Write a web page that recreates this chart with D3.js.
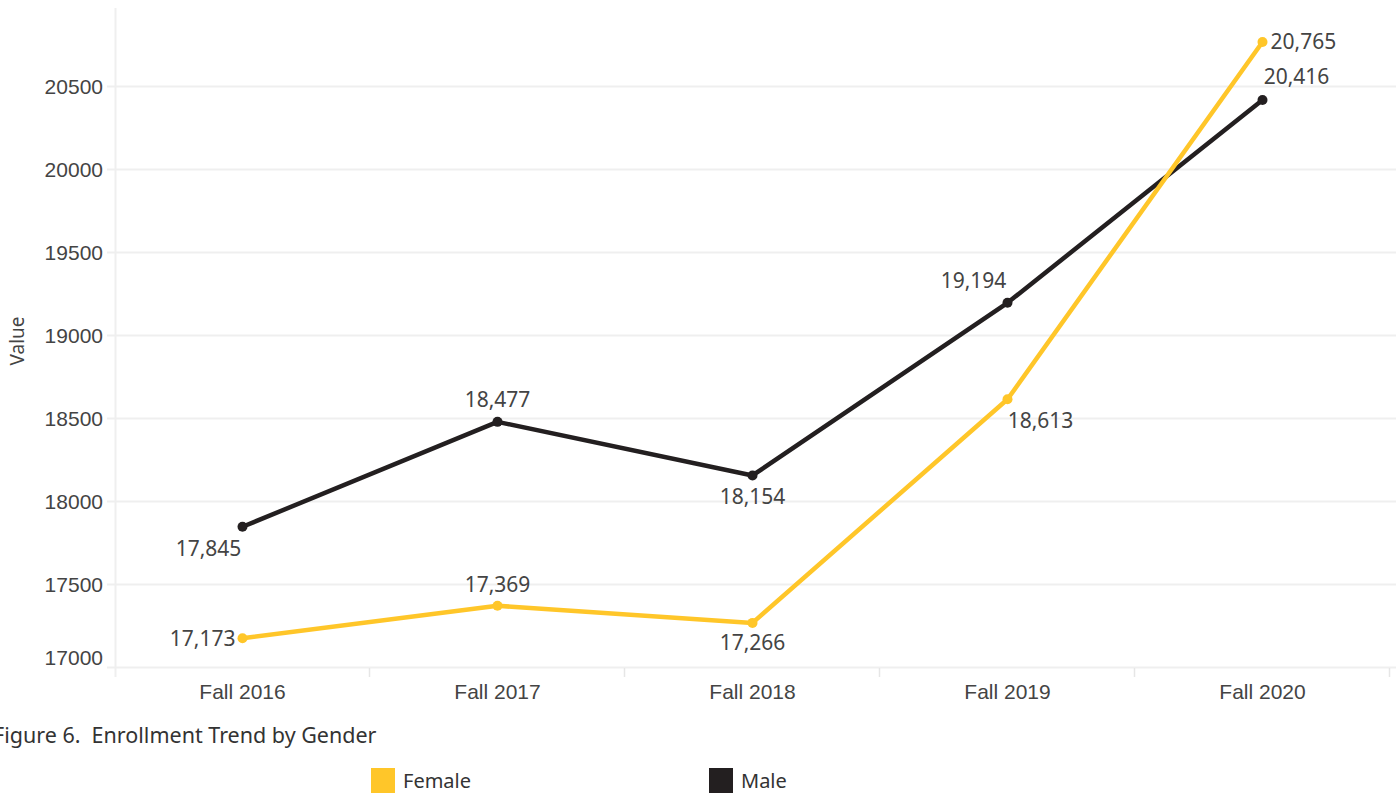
<!DOCTYPE html>
<html>
<head>
<meta charset="utf-8">
<script src="https://cdn.jsdelivr.net/npm/d3@7"></script>
<style>
  body { margin: 0; background: #fff; overflow: hidden; }
  svg { display: block; font-family: "Noto Sans", sans-serif; }
  .tick text { fill: #444; font-size: 21px; }
  .lbl { fill: #444; font-size: 21px; }
</style>
</head>
<body>
<svg id="chart" width="1396" height="793"></svg>
<script>
const terms = ['Fall 2016', 'Fall 2017', 'Fall 2018', 'Fall 2019', 'Fall 2020'];
const female = [17173, 17369, 17266, 18613, 20765];
const male = [17845, 18477, 18154, 19194, 20416];
const yTicks = [17000, 17500, 18000, 18500, 19000, 19500, 20000, 20500];

// where each value label sits relative to its point: [dx, dy, anchor]
const femaleLabelPos = [[-7, 0, 'end'], [0, -21, 'middle'], [0, 20, 'middle'], [33, 21, 'middle'], [8, 0, 'start']];
const maleLabelPos = [[-34, 22, 'middle'], [0, -22, 'middle'], [0, 21, 'middle'], [-34, -22, 'middle'], [34, -23, 'middle']];

const colors = { Female: '#FFC629', Male: '#231F20' };

const drawChart = () => {
  const svg = d3.select('#chart');

  const x = d3.scaleBand()
    .domain(terms)
    .range([115, 1390]);

  const y = d3.scaleLinear()
    .domain([16940, 20970])
    .range([677, 8]);

  // grid
  svg.append('g')
    .selectAll('line')
    .data(yTicks)
    .enter()
    .append('line')
    .attr('x1', 107)
    .attr('x2', 1396)
    .attr('y1', d => Math.round(y(d)) + 0.5)
    .attr('y2', d => Math.round(y(d)) + 0.5)
    .attr('stroke', '#efefef')
    .attr('stroke-width', 2);

  // axis lines
  svg.append('line')
    .attr('x1', 115.5).attr('x2', 115.5)
    .attr('y1', 8).attr('y2', 677)
    .attr('stroke', '#efefef').attr('stroke-width', 2);

  svg.append('g')
    .selectAll('line')
    .data(terms)
    .enter()
    .append('line')
    .attr('x1', (d, i) => 115 + x.bandwidth() * (i + 1) - 0.5)
    .attr('x2', (d, i) => 115 + x.bandwidth() * (i + 1) - 0.5)
    .attr('y1', 668)
    .attr('y2', 677)
    .attr('stroke', '#e6e6e6')
    .attr('stroke-width', 1.5);

  // y tick labels
  const yAxis = d3.axisLeft(y)
    .tickValues(yTicks)
    .tickSize(0)
    .tickPadding(0)
    .tickFormat(d => d);

  const yg = svg.append('g')
    .attr('transform', 'translate(103,0)')
    .call(yAxis);
  yg.select('.domain').remove();
  yg.selectAll('.tick text')
    .attr('dy', '0.35em')
    .attr('transform', d => d === 17000 ? 'translate(0,-10)' : null);

  // x tick labels
  const xAxis = d3.axisBottom(x).tickSize(0).tickPadding(0);
  const xg = svg.append('g')
    .attr('transform', 'translate(0,699)')
    .call(xAxis);
  xg.select('.domain').remove();
  xg.selectAll('.tick text').attr('dy', '0');

  svg.append('text')
    .attr('transform', 'translate(24,341) rotate(-90)')
    .attr('text-anchor', 'middle')
    .attr('fill', '#444')
    .style('font-size', '19px')
    .text('Value');

  const cx = t => x(t) + x.bandwidth() / 2;

  const series = [
    { name: 'Male', values: male, pos: maleLabelPos },
    { name: 'Female', values: female, pos: femaleLabelPos }
  ];

  const line = d3.line()
    .x((d, i) => cx(terms[i]))
    .y(d => y(d));

  series.forEach(s => {
    const g = svg.append('g');
    g.append('path')
      .datum(s.values)
      .attr('d', line)
      .attr('fill', 'none')
      .attr('stroke', colors[s.name])
      .attr('stroke-width', 4.5)
      .attr('stroke-linejoin', 'round');

    g.selectAll('circle')
      .data(s.values)
      .enter()
      .append('circle')
      .attr('cx', (d, i) => cx(terms[i]))
      .attr('cy', d => y(d))
      .attr('r', 5)
      .attr('fill', colors[s.name]);

    g.selectAll('.lbl')
      .data(s.values)
      .enter()
      .append('text')
      .attr('class', 'lbl')
      .attr('x', (d, i) => cx(terms[i]) + s.pos[i][0])
      .attr('y', (d, i) => y(d) + s.pos[i][1])
      .attr('dy', '0.35em')
      .attr('text-anchor', (d, i) => s.pos[i][2])
      .text(d => d3.format(',')(d));
  });

  // title
  svg.append('text')
    .attr('x', -7)
    .attr('y', 743)
    .attr('fill', '#333')
    .style('font-size', '21.5px')
    .attr('xml:space', 'preserve')
    .text('Figure 6.  Enrollment Trend by Gender');

  // legend
  const legend = svg.append('g')
    .selectAll('g')
    .data(['Female', 'Male'])
    .enter()
    .append('g')
    .attr('transform', (d, i) => `translate(${i === 0 ? 371 : 709},768)`);

  legend.append('rect')
    .attr('width', 24)
    .attr('height', 25)
    .attr('fill', d => colors[d]);

  legend.append('text')
    .attr('x', 32)
    .attr('y', 20)
    .attr('fill', '#333')
    .style('font-size', '20px')
    .text(d => d);
};

window.onload = drawChart;
</script>
</body>
</html>
